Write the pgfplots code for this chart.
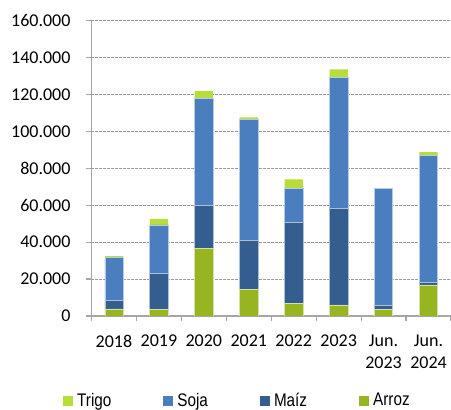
\documentclass[border=0pt]{standalone}
\usepackage{fontspec}
\setmainfont{Carlito}
\newfontfamily\legfont[FakeStretch=0.84]{Liberation Sans}
\usepackage{pgfplots}
\pgfplotsset{compat=1.18}

\definecolor{trigo}{HTML}{B7DD39}
\definecolor{soja}{HTML}{4A7EBE}
\definecolor{maiz}{HTML}{355E90}
\definecolor{arroz}{HTML}{97B521}
\definecolor{axgray}{HTML}{A6A6A6}
\definecolor{gridgray}{HTML}{9A9A9A}

\begin{document}
\begin{tikzpicture}
\path[use as bounding box] (0,0) rectangle (225.5pt,205pt);
\begin{axis}[
  at={(45.75pt,47pt)}, anchor=south west,
  scale only axis,
  width=179.75pt, height=147.65pt,
  ybar stacked,
  bar width=9.15pt,
  xmin=-0.5, xmax=7.5,
  ymin=0, ymax=160000,
  ytick={0,20000,...,160000},
  scaled y ticks=false,
  /pgf/number format/fixed,
  /pgf/number format/precision=0,
  /pgf/number format/1000 sep={.},
  /pgf/number format/assume math mode=true,
  xtick={0,...,7},
  xticklabels={2018,2019,2020,2021,2022,2023,{Jun.\\2023},{Jun.\\2024}},
  minor xtick={-0.5,0.5,...,7.5},
  major x tick style={draw=none},
  minor x tick style={draw=axgray, line width=0.6pt},
  tick align=outside,
  major tick length=2.5pt, minor tick length=2.5pt,
  y tick style={draw=axgray, line width=0.6pt},
  xticklabel style={align=center, font=\fontsize{9}{10.8}\selectfont, yshift=-3.5pt},
  yticklabel style={font=\fontsize{9}{10.8}\selectfont, xshift=-4.5pt},
  ymajorgrids,
  grid style={gridgray, dash pattern=on 1.2pt off 0.8pt, line width=0.5pt},
  axis x line*=bottom, axis y line*=left,
  axis line style={draw=axgray, line width=0.6pt, -},
  reverse legend,
  legend columns=4,
  legend style={at={(rel axis cs:-0.08,-0.288)}, anchor=west, draw=none, fill=none,
    font=\legfont\fontsize{9.1}{10.9}\selectfont,
    /tikz/every even column/.append style={column sep=24pt},
    inner sep=0pt},
  legend image code/.code={\fill[#1, draw=none] (0pt,-2.5pt) rectangle (5pt,2.5pt);},
]
% Arroz
\addplot[fill=arroz, draw=white!60!arroz, line width=0.3pt] coordinates {
  (0,3800) (1,3600) (2,36800) (3,14400) (4,6900) (5,6000) (6,3400) (7,16800)
};
% Maiz
\addplot[fill=maiz, draw=white!60!maiz, line width=0.3pt] coordinates {
  (0,4500) (1,19500) (2,23200) (3,26400) (4,43600) (5,52300) (6,2400) (7,1400)
};
% Soja
\addplot[fill=soja, draw=white!60!soja, line width=0.3pt] coordinates {
  (0,23300) (1,26200) (2,57700) (3,65500) (4,18500) (5,70800) (6,63300) (7,68600)
};
% Trigo (Jun. 2023: none)
\addplot[fill=trigo, draw=none] coordinates {
  (0,900) (1,3200) (2,4200) (3,1300) (4,5000) (5,4500) (6,0) (7,2000)
};
\legend{Arroz,Maíz,Soja,Trigo}
\end{axis}
\end{tikzpicture}
\end{document}
